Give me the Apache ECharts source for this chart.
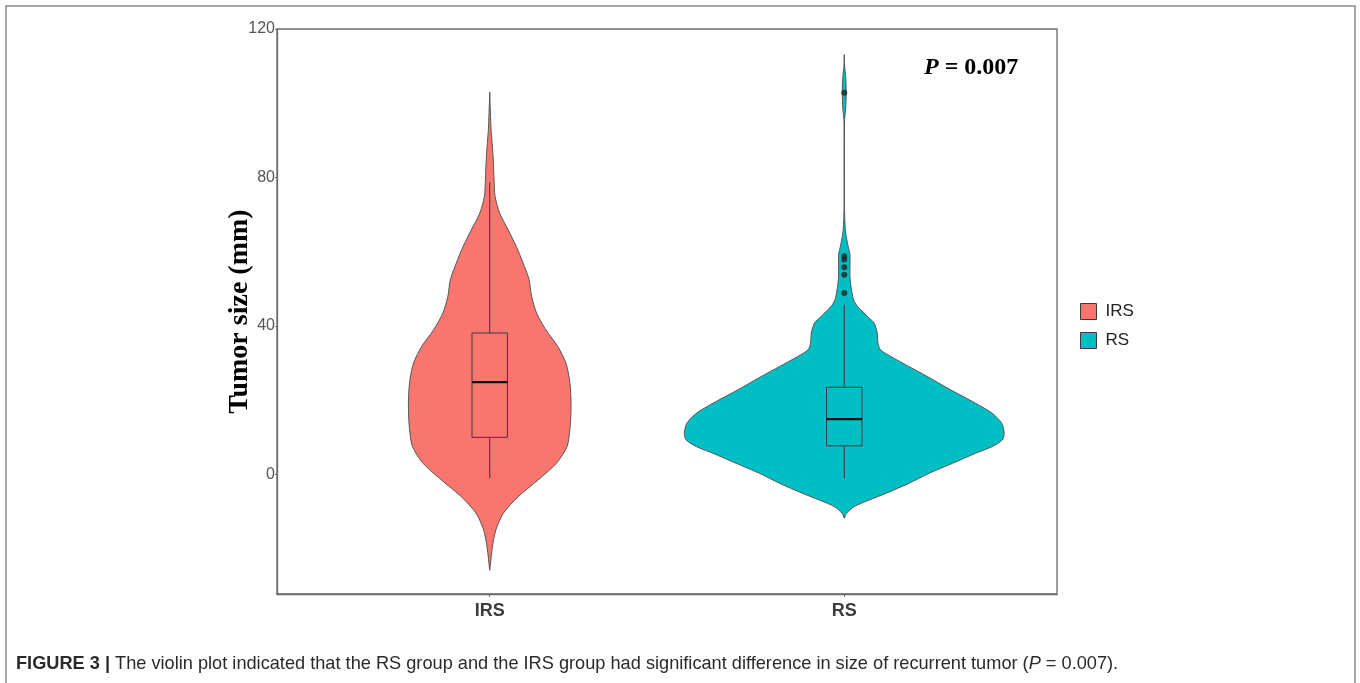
<!DOCTYPE html>
<html>
<head>
<meta charset="utf-8">
<script src="https://cdn.jsdelivr.net/npm/echarts@6/dist/echarts.min.js"></script>
<style>
  html, body { margin: 0; padding: 0; background: #fff; }
  #chart { width: 1360px; height: 683px; }
</style>
</head>
<body>
<div id="chart"></div>
<script>
// ---- data ----
const categories = ['IRS', 'RS'];
const categoryPos = [1, 2];
const yTicks = [0, 40, 80, 120];

// violin outlines: y value and half-width (in category units)
const irsY    = [103.0, 97.4, 92.9, 88.4, 83.9, 79.4, 74.9, 70.4, 65.9, 61.4, 57.0, 52.5, 48.0, 43.5, 39.0, 34.5, 30.0, 25.5, 21.0, 16.5, 12.0, 7.5, 3.0, -1.5, -6.0, -10.5, -15.0, -19.5, -25.8];
const irsHalf = [0, 0.0019, 0.0038, 0.0075, 0.0103, 0.0122, 0.015, 0.028, 0.052, 0.075, 0.094, 0.111, 0.118, 0.132, 0.158, 0.192, 0.215, 0.225, 0.229, 0.229, 0.226, 0.218, 0.188, 0.136, 0.080, 0.038, 0.017, 0.0075, 0];

const rsY    = [113.1, 110.0, 107.3, 102.8, 98.3, 95.6, 90.2, 81.2, 72.2, 68.6, 66.0, 64.1, 61.4, 59.2, 53.3, 50.6, 47.1, 45.3, 42.6, 40.8, 38.1, 35.4, 33.6, 31.8, 29.1, 26.4, 22.8, 19.2, 16.5, 13.8, 11.1, 9.3, 7.5, 5.7, 3.0, 0.3, -2.4, -5.1, -6.9, -8.7, -10.5, -11.8];
const rsHalf = [0, 0.001, 0.0038, 0.0056, 0.0038, 0.001, 0.0006, 0.0006, 0.0006, 0.0015, 0.003, 0.0056, 0.011, 0.016, 0.016, 0.019, 0.026, 0.037, 0.065, 0.084, 0.093, 0.095, 0.102, 0.131, 0.182, 0.234, 0.300, 0.370, 0.417, 0.444, 0.451, 0.446, 0.417, 0.370, 0.305, 0.239, 0.182, 0.117, 0.070, 0.027, 0.006, 0];

// box stats: [lower whisker, Q1, median, Q3, upper whisker]
const irsBox = [-1, 10.0, 24.9, 38.1, 78.7];
const rsBox  = [-1, 7.7, 14.9, 23.5, 45.7];
const irsOutliers = [];
const rsOutliers = [102.8, 58.8, 57.9, 55.8, 53.8, 48.9];

const colors = ['#F8766D', '#00BFC4'];
// ---------------------------------------

const violins = [
  { y: irsY, half: irsHalf, box: irsBox },
  { y: rsY, half: rsHalf, box: rsBox }
];
const BOX_HALF = 0.05;

function makeRender(idx) {
  return function (params, api) {
    const v = violins[idx];
    const xc = categoryPos[idx];
    const pts = [];
    for (let i = 0; i < v.y.length; i++) pts.push(api.coord([xc - v.half[i], v.y[i]]));
    for (let i = v.y.length - 1; i >= 0; i--) pts.push(api.coord([xc + v.half[i], v.y[i]]));
    const b = v.box;
    const lw = api.coord([xc, b[0]]), q1 = api.coord([xc, b[1]]), md = api.coord([xc, b[2]]),
          q3 = api.coord([xc, b[3]]), hw = api.coord([xc, b[4]]);
    const bl = api.coord([xc - BOX_HALF, b[3]]), br = api.coord([xc + BOX_HALF, b[1]]);
    const lineStyle = { stroke: '#3a3a3a', lineWidth: 1 };
    return {
      type: 'group',
      children: [
        { type: 'polygon', shape: { points: pts, smooth: 0.25 },
          style: { fill: colors[idx], stroke: '#555', lineWidth: 1 } },
        { type: 'line', shape: { x1: hw[0], y1: hw[1], x2: q3[0], y2: q3[1] }, style: lineStyle },
        { type: 'line', shape: { x1: q1[0], y1: q1[1], x2: lw[0], y2: lw[1] }, style: lineStyle },
        { type: 'rect', shape: { x: bl[0], y: bl[1], width: br[0] - bl[0], height: br[1] - bl[1] },
          style: { fill: 'none', stroke: '#3a3a3a', lineWidth: 1 } },
        { type: 'line', shape: { x1: bl[0], y1: md[1], x2: br[0], y2: md[1] },
          style: { stroke: '#111', lineWidth: 2.2 } }
      ]
    };
  };
}

const chart = echarts.init(document.getElementById('chart'), null, { renderer: 'canvas' });

const outlierData = [];
irsOutliers.forEach(v => outlierData.push([categoryPos[0], v]));
rsOutliers.forEach(v => outlierData.push([categoryPos[1], v]));

chart.setOption({
  backgroundColor: '#fff',
  animation: false,
  grid: {
    left: 277, top: 29, right: 303, bottom: 89,
    show: true, borderColor: '#6a6a6a', borderWidth: 1.3, backgroundColor: '#fff'
  },
  legend: {
    orient: 'vertical', left: 1075, top: 298,
    itemWidth: 16, itemHeight: 16, itemGap: 12,
    data: [{ name: 'IRS', icon: 'rect' }, { name: 'RS', icon: 'rect' }],
    itemStyle: { borderColor: '#3a3a3a', borderWidth: 1 },
    textStyle: { fontFamily: 'Liberation Sans, Arial', fontSize: 17, color: '#222', padding: [0, 0, 0, 4] }
  },
  xAxis: {
    type: 'value', min: 0.4, max: 2.6,
    splitLine: { show: false },
    axisLine: { show: true, onZero: false, lineStyle: { color: '#6a6a6a', width: 1.3 } },
    axisTick: { show: true, customValues: categoryPos, length: 3, lineStyle: { color: '#6a6a6a' } },
    axisLabel: {
      customValues: categoryPos,
      formatter: v => categories[Math.round(v) - 1] || '',
      fontFamily: 'Liberation Sans, Arial', fontWeight: 'bold', fontSize: 18, color: '#3d3d3d', margin: 8
    }
  },
  yAxis: {
    type: 'value', min: -32.2, max: 120,
    name: 'Tumor size (mm)', nameLocation: 'middle', nameGap: 23, nameMoveOverlap: false,
    nameTextStyle: { fontFamily: 'Liberation Serif, Times New Roman', fontWeight: 'bold', fontSize: 28, color: '#000' },
    splitLine: { show: false },
    axisLine: { show: true, onZero: false, lineStyle: { color: '#6a6a6a', width: 1.3 } },
    axisTick: { show: true, customValues: yTicks, length: 2, lineStyle: { color: '#6a6a6a' } },
    axisLabel: {
      customValues: yTicks,
      fontFamily: 'Liberation Sans, Arial', fontSize: 16, color: '#555', margin: 2, padding: [3, 0, 0, 0]
    }
  },
  series: [
    { type: 'custom', name: 'IRS', itemStyle: { color: colors[0] }, renderItem: makeRender(0), data: [[categoryPos[0], 0]], silent: true, z: 2 },
    { type: 'custom', name: 'RS', itemStyle: { color: colors[1] }, renderItem: makeRender(1), data: [[categoryPos[1], 0]], silent: true, z: 2 },
    { type: 'scatter', name: 'outliers', data: outlierData, symbolSize: 6, itemStyle: { color: '#222' }, z: 5, silent: true }
  ],
  graphic: [
    { type: 'rect', shape: { x: 6, y: 6, width: 1349, height: 700 },
      style: { fill: 'none', stroke: '#8a8a8a', lineWidth: 1.5 }, silent: true, z: -10 },
    { type: 'text', left: 924, top: 56, silent: true,
      style: {
        text: '{i|P} = 0.007',
        rich: {
          i: { fontFamily: 'Liberation Serif', fontStyle: 'italic', fontWeight: 'bold', fontSize: 24, fill: '#000' }
        },
        fontFamily: 'Liberation Serif', fontWeight: 'bold', fontSize: 24, fill: '#000'
      } },
    { type: 'text', left: 16, top: 655, silent: true,
      style: {
        text: '{b|FIGURE 3 |} The violin plot indicated that the RS group and the IRS group had significant difference in size of recurrent tumor ({i|P} = 0.007).',
        rich: {
          b: { fontFamily: 'Liberation Sans', fontWeight: 'bold', fontSize: 18.2, fill: '#2a2a2a' },
          i: { fontFamily: 'Liberation Sans', fontStyle: 'italic', fontSize: 18.2, fill: '#2a2a2a' }
        },
        fontFamily: 'Liberation Sans', fontSize: 18.2, fill: '#2a2a2a'
      } }
  ]
});
</script>
</body>
</html>
